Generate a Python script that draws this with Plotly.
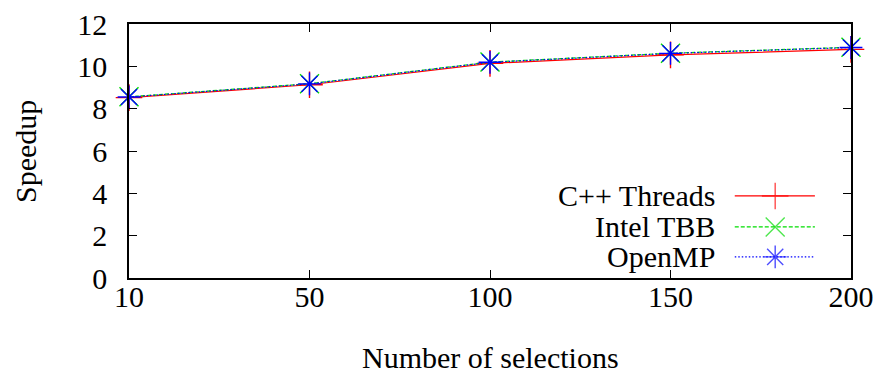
import plotly.graph_objects as go

categories = ["10", "50", "100", "150", "200"]
cpp_threads = [8.52, 9.13, 10.14, 10.54, 10.80]
intel_tbb = [8.56, 9.18, 10.20, 10.62, 10.90]
openmp = [8.55, 9.17, 10.19, 10.61, 10.89]

series_names = ["C++ Threads", "Intel TBB", "OpenMP"]
series_values = [cpp_threads, intel_tbb, openmp]
colors = ["#ff0000", "#00dd00", "#0000ff"]
dashes = ["solid", "4px,2px", "1.5px,2px"]
symbols = ["cross-thin-open", "x-thin-open", "asterisk-open"]

FONT = "Liberation Serif, Times New Roman, serif"
FS = 30
PLOT_W = 878 - 129 - 27
PLOT_H = 374 - 24 - 96

fig = go.Figure()
for name, vals, c, d, s in zip(series_names, series_values, colors, dashes, symbols):
    fig.add_trace(go.Scatter(
        x=categories, y=vals, name=name, mode="lines+markers",
        line=dict(color=c, width=1.2, dash=d),
        marker=dict(symbol=s, size=19, line=dict(color=c, width=1.4)),
        showlegend=False, xaxis="x", yaxis="y", cliponaxis=False,
    ))

# custom gnuplot-style legend (text left, sample right)
legend_y = [0.323, 0.201, 0.083]
for name, c, d, s, ly in zip(series_names, colors, dashes, symbols, legend_y):
    fig.add_trace(go.Scatter(
        x=[0.839, 0.895, 0.950], y=[ly, ly, ly], mode="lines+markers",
        line=dict(color=c, width=1.2, dash=d),
        marker=dict(symbol=s, size=[0, 19, 0], line=dict(color=c, width=1.4)),
        showlegend=False, hoverinfo="skip", xaxis="x2", yaxis="y2",
    ))
    fig.add_annotation(
        x=0.814, y=ly, xref="x2", yref="y2", text=name, showarrow=False,
        xanchor="right", yanchor="middle",
        font=dict(family=FONT, size=FS, color="black"),
    )

fig.add_annotation(x=(490 - 129) / PLOT_W, y=(278 - 357) / PLOT_H,
                   xref="paper", yref="paper",
                   text="Number of selections", showarrow=False,
                   xanchor="center", yanchor="middle",
                   font=dict(family=FONT, size=FS, color="black"))
fig.add_annotation(x=-(129 - 25) / PLOT_W, y=0.5, xref="paper", yref="paper",
                   text="Speedup", showarrow=False, textangle=-90,
                   xanchor="center", yanchor="middle",
                   font=dict(family=FONT, size=FS, color="black"))

fig.update_layout(
    width=878, height=374,
    margin=dict(l=129, r=27, t=24, b=96),
    plot_bgcolor="white", paper_bgcolor="white",
    font=dict(family=FONT, size=FS, color="black"),
    xaxis=dict(
        type="category", range=[0, 4], showgrid=False, zeroline=False,
        showline=True, linecolor="black", linewidth=1.5, mirror="ticks",
        ticks="inside", ticklen=8, tickcolor="black", automargin=False,
        ticklabelstandoff=-9,
        tickfont=dict(family=FONT, size=FS),
    ),
    yaxis=dict(
        range=[0, 12], dtick=2, showgrid=False, zeroline=False,
        showline=True, linecolor="black", linewidth=1.5, mirror="ticks",
        ticks="inside", ticklen=8, tickcolor="black", automargin=False,
        ticklabelstandoff=14,
        tickfont=dict(family=FONT, size=FS),
    ),
    xaxis2=dict(range=[0, 1], overlaying="x", visible=False, domain=[0, 1]),
    yaxis2=dict(range=[0, 1], overlaying="y", visible=False, domain=[0, 1]),
)

fig.write_html("out.html", config={"displayModeBar": False},
               post_script="document.body.style.margin='0';document.body.style.padding='0';")
